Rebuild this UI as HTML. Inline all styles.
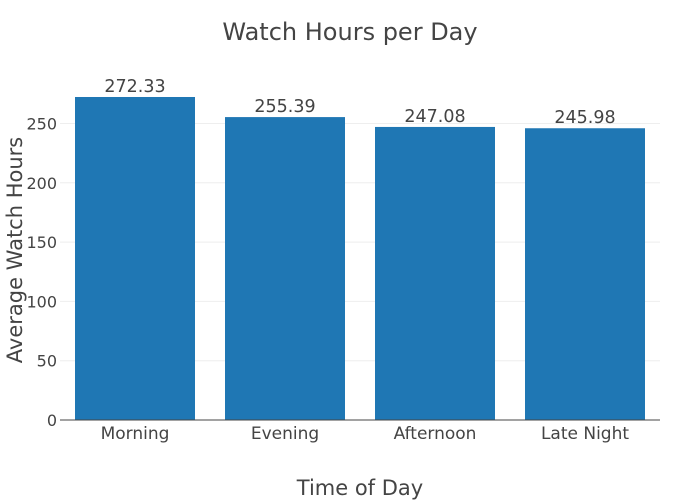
<!DOCTYPE html>
<html><head><meta charset="utf-8"><style>
body{margin:0;background:#fff}
svg{font-family:"DejaVu Sans","Liberation Sans",sans-serif;display:block}
</style></head><body>
<svg id="chart" width="700" height="500">
<rect width="700" height="500" fill="#fff"/>
<g id="grid"></g><g id="bars"></g><g id="labels"></g><g id="yticks"></g><g id="xticks"></g>
<line x1="60" x2="660" y1="420" y2="420" stroke="#444" stroke-width="1"/>
<text x="350" y="40" text-anchor="middle" font-size="24" fill="#444">Watch Hours per Day</text>
<text x="360" y="495" text-anchor="middle" font-size="21" fill="#444">Time of Day</text>
<text transform="translate(22,250) rotate(-90)" text-anchor="middle" font-size="21" fill="#444">Average Watch Hours</text>
</svg>
<script>
const categories=["Morning","Evening","Afternoon","Late Night"];
const values=[272.33,255.39,247.08,245.98];
const yTicks=[0,50,100,150,200,250];
const ns="http://www.w3.org/2000/svg";
const L=60,R=660,T=80,B=420,yMax=286.66;
const y=v=>B-(v/yMax)*(B-T);
const band=(R-L)/categories.length;
const x=i=>L+band*i;
function mk(tag,attrs,parent,text){const e=document.createElementNS(ns,tag);for(const k in attrs)e.setAttribute(k,attrs[k]);if(text!==undefined)e.textContent=text;document.getElementById(parent).appendChild(e);return e;}
yTicks.forEach(t=>{
  if(t>0){const g=mk('line',{x1:L,x2:R,y1:y(t),y2:y(t),stroke:'#eee','stroke-width':1},'grid');
  
  }
  const tx=mk('text',{x:L-3,y:y(t)+6,'text-anchor':'end','font-size':16,fill:'#444'},'yticks',String(t));
  
  
});
categories.forEach((c,i)=>{
  const w=band*0.8,bx=x(i)+band*0.1;
  const r=mk('rect',{x:bx,y:y(values[i]),width:w,height:B-y(values[i]),fill:'#1f77b4'},'bars');
  
  
  const lb=mk('text',{x:x(i)+band/2,y:y(values[i])-5,'text-anchor':'middle','font-size':17.5,fill:'#444'},'labels',values[i].toFixed(2));
  
  
  const xt=mk('text',{x:x(i)+band/2,y:B+19,'text-anchor':'middle','font-size':17,fill:'#444'},'xticks',c);
  
  
});
</script>
</body></html>
